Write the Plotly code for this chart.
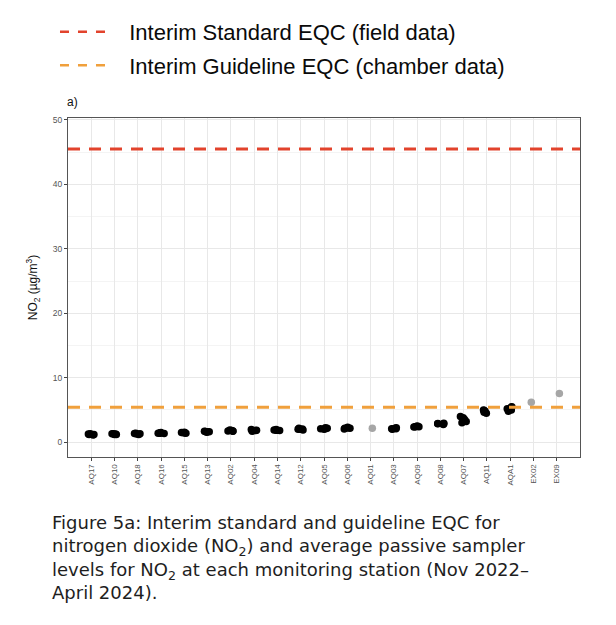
import plotly.graph_objects as go

# station order along the x axis
stations = ["AQ17", "AQ10", "AQ18", "AQ16", "AQ15", "AQ13", "AQ02", "AQ04",
            "AQ14", "AQ12", "AQ05", "AQ06", "AQ01", "AQ03", "AQ09", "AQ08",
            "AQ07", "AQ11", "AQA1", "EX02", "EX09"]

# passive sampler NO2 levels (ug/m3) per station
no2_values = {
    "AQ17": [1.10, 1.20, 1.25, 1.30, 1.20],
    "AQ10": [1.20, 1.25, 1.30, 1.30, 1.20],
    "AQ18": [1.20, 1.30, 1.35, 1.40, 1.25],
    "AQ16": [1.35, 1.40, 1.45, 1.50, 1.40],
    "AQ15": [1.40, 1.45, 1.50, 1.55, 1.45],
    "AQ13": [1.55, 1.60, 1.65, 1.70, 1.60],
    "AQ02": [1.70, 1.75, 1.80, 1.90, 1.75],
    "AQ04": [1.70, 1.80, 1.85, 1.95, 1.80],
    "AQ14": [1.80, 1.85, 1.90, 1.95, 1.85],
    "AQ12": [1.90, 2.00, 2.05, 2.15, 2.00],
    "AQ05": [2.00, 2.10, 2.15, 2.25, 2.10],
    "AQ06": [2.05, 2.15, 2.20, 2.30, 2.15],
    "AQ01": [2.15],
    "AQ03": [2.00, 2.10, 2.15, 2.25, 2.10],
    "AQ09": [2.35, 2.40, 2.45, 2.50, 2.40],
    "AQ08": [2.75, 2.85, 2.90, 2.95, 2.85],
    "AQ07": [3.00, 3.20, 3.50, 3.80, 4.00],
    "AQ11": [4.50, 4.65, 4.80, 4.90, 5.00],
    "AQA1": [4.80, 5.00, 5.20, 5.40, 5.50],
    "EX02": [6.20],
    "EX09": [7.55],
}

# stations drawn in grey
grey_stations = ["AQ01", "EX02", "EX09"]

standard_eqc = 45.5
guideline_eqc = 5.4

RED = "#e2432c"
ORANGE = "#f0a03c"
NBSP = "\u00a0\u00a0"


def split_points(keep_grey):
    xs, ys = [], []
    for s in stations:
        if (s in grey_stations) != keep_grey:
            continue
        for v in no2_values[s]:
            xs.append(s)
            ys.append(v)
    return xs, ys


fig = go.Figure()

for grey in [False, True]:
    xs, ys = split_points(grey)
    fig.add_trace(go.Box(
        x=xs, y=ys,
        boxpoints="all", jitter=0.6, pointpos=0,
        fillcolor="rgba(0,0,0,0)",
        line=dict(color="rgba(0,0,0,0)", width=0),
        marker=dict(color="#a6a6a6" if grey else "black", size=7.5),
        showlegend=False, hoverinfo="y",
    ))

fig.add_hline(y=standard_eqc, line=dict(color=RED, width=3, dash="12px,9px"))
fig.add_hline(y=guideline_eqc, line=dict(color=ORANGE, width=3, dash="12px,9px"))

# legend entries
fig.add_trace(go.Scatter(x=[None], y=[None], mode="lines",
                         name=NBSP + "Interim Standard EQC (field data)",
                         line=dict(color=RED, width=2.5, dash="9px,9px"),
                         legendgroup="a"))
fig.add_trace(go.Scatter(x=[None], y=[None], mode="lines",
                         name=NBSP + "Interim Guideline EQC (chamber data)",
                         line=dict(color=ORANGE, width=2.5, dash="9px,9px"),
                         legendgroup="b"))

fig.add_annotation(text="a)", xref="paper", yref="paper", x=-0.005, y=1.02,
                   xanchor="left", yanchor="bottom", showarrow=False,
                   font=dict(size=12, color="#111"))

caption = ("Figure 5a: Interim standard and guideline EQC for<br>"
           "nitrogen dioxide (NO<sub>2</sub>) and average passive sampler<br>"
           "levels for NO<sub>2</sub> at each monitoring station (Nov 2022–<br>"
           "April 2024).")
fig.add_annotation(text=caption, xref="paper", yref="paper", x=-0.035, y=-0.155,
                   xanchor="left", yanchor="top", align="left", showarrow=False,
                   font=dict(family="DejaVu Sans", size=18, color="#1e1e1e"))

fig.update_layout(
    width=616, height=625,
    margin=dict(l=60, r=44, t=110, b=176, autoexpand=False),
    paper_bgcolor="white", plot_bgcolor="white",
    boxmode="overlay",
    font=dict(family="Liberation Sans", color="#4d4d4d"),
    legend=dict(x=-0.0254, y=1.316, xanchor="left", yanchor="top",
                font=dict(size=22, color="#0a0a0a"), itemwidth=52,
                tracegroupgap=2, bgcolor="rgba(0,0,0,0)"),
    xaxis=dict(categoryorder="array", categoryarray=stations,
               range=[-1, 21], tickangle=-90,
               tickfont=dict(size=8, color="#555"),
               showgrid=True, gridcolor="#e8e8e8", gridwidth=1,
               ticks="outside", ticklen=3, tickcolor="#444",
               showline=True, linecolor="#555", linewidth=1, mirror=True,
               zeroline=False),
    yaxis=dict(range=[-2.3, 50.3], tickvals=[0, 10, 20, 30, 40, 50],
               tickfont=dict(size=8.5, color="#555"),
               showgrid=True, gridcolor="#e8e8e8", gridwidth=1,
               minor=dict(tickvals=[5, 15, 25, 35, 45], showgrid=True,
                          gridcolor="#f4f4f4", gridwidth=0.5),
               ticks="outside", ticklen=3, tickcolor="#444",
               showline=True, linecolor="#555", linewidth=1, mirror=True,
               zeroline=False,
               title=dict(text="NO<sub>2</sub> (µg/m<sup>3</sup>)",
                          font=dict(size=12, color="#111"), standoff=12)),
)

fig.write_html("out.html")
